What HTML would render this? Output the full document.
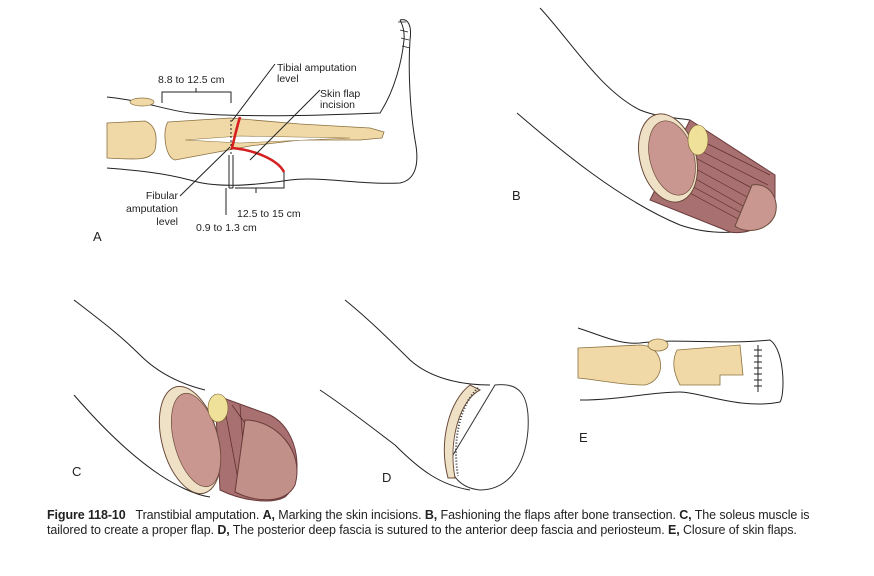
<!DOCTYPE html>
<html><head><meta charset="utf-8"><style>
html,body{margin:0;padding:0;background:#fff;width:874px;height:576px;overflow:hidden}
svg{position:absolute;left:0;top:0}
.cap{position:absolute;left:47px;top:508px;font-family:"Liberation Sans",sans-serif;font-size:12.5px;line-height:15px;color:#222;white-space:nowrap;letter-spacing:-0.1px}
</style></head><body>
<svg width="874" height="576" viewBox="0 0 874 576" font-family="Liberation Sans, sans-serif" font-size="10.5" fill="none" stroke="#222" stroke-width="1">
<!-- Panel A -->
<path d="M107,97 C140,100 165,110 190,113 C250,118 330,115 380,113 C395,90 402,60 404,40 C405,28 400,20 400,20" />
<path d="M400,20 C408,18 412,25 410,40 C408,70 410,110 415,140 C420,165 415,180 400,183 C360,185 320,176 290,180 C250,186 215,188 190,180 C160,172 130,170 107,168" />
<path d="M398,22 l8,0 M400,30 l8,2 M401,38 l8,2 M402,46 l8,2" stroke-width="0.7"/>
<path d="M107,123 L145,121 C155,125 158,135 155,150 C150,160 140,160 107,158 Z" fill="#f1d9a7" stroke="#8a7040" stroke-width="0.8"/>
<path d="M168,122 L230,118 L300,124 L370,128 L384,132 L382,138 L360,140 L300,140 L250,146 L175,160 C165,158 162,130 168,122 Z" fill="#f1d9a7" stroke="#8a7040" stroke-width="0.8"/>
<path d="M185,140 L240,136 L350,138 L240,143 Z" fill="#fff" stroke="#8a7040" stroke-width="0.6"/>
<ellipse cx="142" cy="102" rx="12" ry="4" fill="#f1d9a7" stroke="#8a7040" stroke-width="0.7"/>
<path d="M231,120 L231,155" stroke-dasharray="2,2"/>
<path d="M240,117 C236,130 234,140 232,148 C255,150 278,160 284,172" stroke="#d42020" stroke-width="2.6"/>
<path d="M162,103 L162,92 L231,92 L231,103 M196,92 L196,88"/>
<path d="M229,155 L229,188 M233,155 L233,188 M229,188 L233,188"/>
<path d="M235,188 L284,188 L284,172 M256,188 L256,193"/>
<path d="M232,121 L275,64 M250,160 L320,90 M230,147 L180,196 M226,188 L226,215"/>
<g fill="#222" stroke="none">
<text x="158" y="83">8.8 to 12.5 cm</text>
<text x="277" y="71">Tibial amputation</text><text x="277" y="82">level</text>
<text x="320" y="97">Skin flap</text><text x="320" y="108">incision</text>
<text x="178" y="199" text-anchor="end">Fibular</text>
<text x="178" y="212" text-anchor="end">amputation</text>
<text x="178" y="225" text-anchor="end">level</text>
<text x="237" y="217">12.5 to 15 cm</text>
<text x="196" y="231">0.9 to 1.3 cm</text>
<text x="93" y="241" font-size="13">A</text>
<text x="512" y="200" font-size="13">B</text>
<text x="72" y="476" font-size="13">C</text>
<text x="382" y="482" font-size="13">D</text>
<text x="579" y="442" font-size="13">E</text>
</g>
<!-- Panel B -->
<path d="M540,8 C570,40 600,90 640,110 C660,118 680,118 690,120"/>
<path d="M517,113 C560,150 620,200 680,225 C700,232 720,233 735,232"/>
<path d="M690,120 L775,175 L775,205 C768,228 745,235 730,232 L650,200 Z" fill="#a87070" stroke="#6b3b3b"/>
<path d="M700,140 L770,175 M695,148 L768,185 M690,155 L765,195 M685,163 L758,203 M680,170 L750,210 M677,178 L745,215 M675,185 L740,220" stroke="#5b2b2b" stroke-width="0.7"/>
<ellipse cx="668" cy="158" rx="28" ry="45" transform="rotate(-15 668 158)" fill="#efe1c6" stroke="#6b4b3b"/>
<ellipse cx="672" cy="158" rx="22" ry="38" transform="rotate(-15 672 158)" fill="#c99690" stroke="#6b4b3b" stroke-width="0.7"/>
<ellipse cx="698" cy="140" rx="10" ry="15" fill="#efe19a" stroke="#7a6030" stroke-width="0.6"/>
<path d="M752,185 C770,182 780,200 775,215 C768,232 745,234 735,226 Z" fill="#c99690" stroke="#6b4b3b"/>
<!-- Panel C -->
<path d="M74,300 C100,320 120,335 140,355 C160,375 185,385 205,390"/>
<path d="M74,395 C100,425 130,455 160,475 C175,485 195,495 210,497"/>
<path d="M215,395 L270,415 C300,430 305,480 285,497 C270,505 240,500 220,490 Z" fill="#a87070" stroke="#6b3b3b"/>
<path d="M225,410 L240,490 M232,405 L250,430 M240,405 L245,470" stroke="#5b2b2b" stroke-width="0.7"/>
<ellipse cx="190" cy="440" rx="28" ry="55" transform="rotate(-15 190 440)" fill="#efe1c6" stroke="#6b4b3b"/>
<ellipse cx="196" cy="440" rx="22" ry="48" transform="rotate(-15 196 440)" fill="#c99690" stroke="#6b4b3b" stroke-width="0.7"/>
<ellipse cx="218" cy="408" rx="10" ry="14" fill="#efe19a" stroke="#7a6030" stroke-width="0.6"/>
<path d="M245,420 C275,420 305,450 295,485 C285,505 255,502 235,492 Z" fill="#c19088" stroke="#6b3b3b"/>
<!-- Panel D -->
<path d="M345,300 C370,320 395,345 410,360 C430,378 460,385 490,385"/>
<path d="M320,390 C350,410 375,430 395,445 C420,470 440,485 470,490"/>
<path d="M495,385 C520,382 530,395 528,430 C525,470 505,490 480,490 C460,488 450,475 450,460 Z" fill="#fff" stroke="#333"/>
<path d="M470,385 C450,400 438,440 448,478 L455,478 C448,440 460,400 480,390 Z" fill="#efe1c6" stroke="#6b4b3b"/>
<path d="M478,388 C460,405 452,440 458,476" stroke="#333" stroke-width="2" stroke-dasharray="1,2"/>
<!-- Panel E -->
<path d="M578,328 C600,335 620,345 640,343 C680,338 720,345 770,340 C785,350 785,395 780,402 C740,410 700,392 680,392 C650,392 620,400 580,400"/>
<path d="M578,348 L640,345 C665,345 668,380 645,385 C620,385 600,380 578,378 Z" fill="#f1d9a7" stroke="#8a7040" stroke-width="0.8"/>
<path d="M677,350 L740,345 L743,375 L720,375 L720,385 L680,385 C673,372 672,360 677,350 Z" fill="#f1d9a7" stroke="#8a7040" stroke-width="0.8"/>
<ellipse cx="658" cy="345" rx="10" ry="6" fill="#f1d9a7" stroke="#8a7040" stroke-width="0.8"/>
<path d="M758,345 L758,392 M754,350 h8 M754,356 h8 M754,362 h8 M754,368 h8 M754,374 h8 M754,380 h8 M754,386 h8"/>
</svg>
<div class="cap"><b>Figure 118-10</b>&nbsp;&nbsp; Transtibial amputation. <b>A,</b> Marking the skin incisions. <b>B,</b> Fashioning the flaps after bone transection. <b>C,</b> The soleus muscle is<br>tailored to create a proper flap. <b>D,</b> The posterior deep fascia is sutured to the anterior deep fascia and periosteum. <b>E,</b> Closure of skin flaps.</div>
</body></html>
